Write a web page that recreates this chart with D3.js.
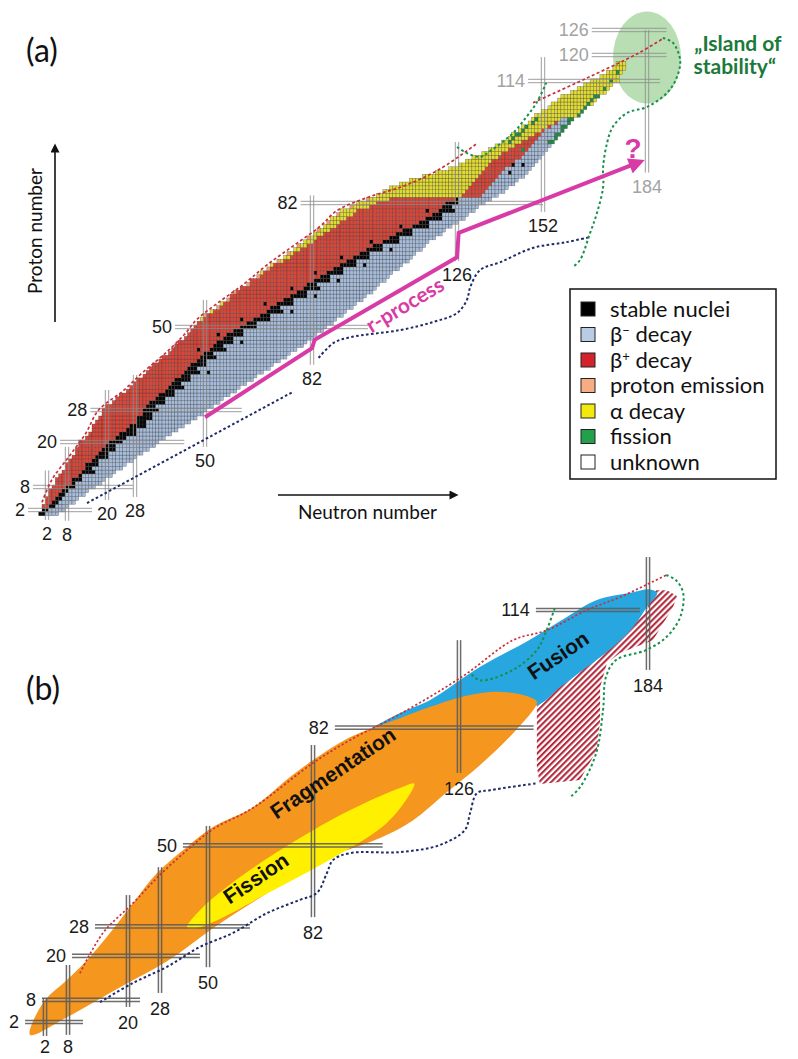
<!DOCTYPE html>
<html><head><meta charset="utf-8">
<script src="https://cdnjs.cloudflare.com/ajax/libs/d3/7.8.5/d3.min.js"></script>
<style>html,body{margin:0;padding:0;background:#fff}svg{display:block}</style>
</head><body>
<svg id="chart" width="798" height="1059"></svg>
<script>
// ================= DATA =================
// Panel (a): nuclide rows [Z, Nmin, alphaEnd, betaPlusEnd, stableEnd, Nmax]
// yellow: Nmin..alphaEnd, red: ..betaPlusEnd, black: ..stableEnd, blue: ..Nmax
const nuclideRows = [
[1,0,-1,-1,1,5],[2,1,0,0,2,7],[3,1,0,2,4,8],[4,2,1,3,5,10],[5,2,1,4,6,11],
[6,3,2,5,7,13],[7,3,2,6,8,14],[8,4,3,7,10,16],[9,5,4,9,10,18],[10,5,4,9,12,19],
[11,6,5,11,12,21],[12,7,6,12,16,22],[13,8,7,13,15,24],[14,8,7,13,17,25],[15,9,8,15,17,27],
[16,10,9,16,20,28],[17,11,10,17,20,30],[18,11,10,18,22,32],[19,12,11,19,22,34],[20,12,11,20,24,35],
[21,14,13,22,25,37],[22,15,14,23,28,39],[23,16,15,25,28,41],[24,16,15,26,31,43],[25,17,16,28,31,45],
[26,18,17,28,33,47],[27,19,18,30,33,49],[28,19,18,30,35,50],[29,20,19,31,34,52],[30,22,21,32,37,54],
[31,23,22,34,37,55],[32,24,23,35,40,57],[33,26,25,37,40,59],[34,27,26,38,43,60],[35,28,27,39,42,62],
[36,29,28,40,45,64],[37,31,30,42,45,65],[38,32,31,43,48,67],[39,33,32,44,47,69],[40,34,33,45,50,70],
[41,36,35,47,50,72],[42,37,36,48,53,74],[43,39,38,49,52,75],[44,40,39,51,56,77],[45,41,40,52,55,79],
[46,42,41,53,58,80],[47,44,43,55,58,82],[48,45,44,56,61,83],[49,46,45,58,61,85],[50,47,46,60,65,86],
[51,48,47,62,65,88],[52,49,49,64,69,89],[53,50,50,66,69,91],[54,52,52,68,73,92],[55,54,53,69,72,94],
[56,55,55,71,76,95],[57,57,56,73,76,97],[58,58,57,75,80,98],[59,59,58,77,80,100],[60,61,60,79,84,101],
[61,63,62,80,83,102],[62,64,63,82,87,104],[63,66,65,84,87,105],[64,67,67,86,91,106],[65,69,69,88,91,108],
[66,70,70,90,95,109],[67,72,73,92,95,111],[68,74,75,94,99,112],[69,75,76,96,99,113],[70,77,78,98,103,115],
[71,78,80,100,103,116],[72,80,82,103,108,117],[73,81,83,105,108,119],[74,83,85,107,112,121],[75,84,87,109,112,122],
[76,86,89,112,117,124],[77,87,90,114,117,126],[78,88,92,116,121,128],[79,90,94,118,121,129],[80,91,95,120,125,131],
[81,94,99,121,124,132],[82,96,101,122,126,134],[83,99,105,125,126,136],
[84,102,127,133,133,138],[85,104,128,134,134,140],[86,106,129,135,135,141],[87,109,130,136,136,143],
[88,112,131,137,137,144],[89,116,132,138,138,146],[90,120,133,139,139,147],[91,124,134,140,140,148],
[92,127,135,142,142,149],[93,129,136,143,143,150],[94,131,138,145,145,151],[95,134,139,146,146,152],
[96,136,141,147,147,153],[97,138,143,148,148,154],[98,140,145,149,149,155],[99,142,147,150,150,156],
[100,143,149,151,151,157],[101,145,151,152,152,158],[102,146,153,154,154,159],[103,148,155,156,156,160],
[104,149,157,157,157,161],
[105,150,163,163,163,163],[106,152,164,164,164,164],[107,154,165,165,165,165],[108,155,167,167,167,167],
[109,157,168,168,168,168],[110,158,169,169,169,169],[111,161,171,171,171,171],[112,163,172,172,172,172],
[113,165,173,173,173,173],[114,167,175,175,175,175],[115,170,175,175,175,175],[116,172,176,176,176,176],
[117,174,177,177,177,177],[118,175,177,177,177,177]
];
const stableExtra = [[90,142],[92,143],[92,146],[44,48],[48,54],[52,61],[56,68],[60,76],[64,83],[68,91],
  [72,100],[76,109],[80,117],[54,76],[62,90],[70,106],[38,51],[46,61],[58,83],[66,98]];
const protonEmitters = [[53,50],[55,54],[57,57],[59,59],[61,63],[63,66],[65,69],[67,72],[69,75],[71,78],
  [73,81],[75,84],[77,87],[79,90],[81,94],[83,99]];
const fissionCells = [[96,146],[98,142],[99,143],[100,144],[100,145],[101,146],[102,147],[103,149],[104,150],
  [98,154],[98,155],[99,156],[100,156],[100,157],[101,158],[102,158],[102,159],[103,160],[104,160],[104,161],
  [105,163],[106,164],[107,165],[108,166],[109,167],[110,168],[110,169],[112,171],[114,173],[116,175]];

// magic numbers panel (a): horizontal [Z, Nfrom, Nto], vertical [N, Zfrom, Zto]
const magicZ_A = [[2,-3.7,15.5],[8,-2.2,27.4],[20,5.9,43.5],[28,15,61],[50,40.6,99],[82,78.6,152],[114,147.5,188],[120,167,190],[126,167,190]];
const magicN_A = [[2,-0.6,12.4],[8,-0.8,18.7],[20,4.6,33.3],[28,5.4,37.3],[50,18.7,57],[82,40,84],[126,67,98],[152,79.7,119.5],[184,90,126]];
const predictedMagicZ = [114,120,126];
const predictedMagicN = [184];

// lines panel (a), [N, Z]
const protonDripA = [[0.5,4],[3.5,10],[8.5,16],[13.5,22],[17.5,28],[24.5,33],[30.5,38],[37.5,43],[43.5,48],[47.5,52],[53.5,56],[61.5,61],[68.5,66],[76.5,71],[84.5,76],[89.5,80],[99,83.5],[110,86.5],[121,91],[132,97.6]];
const protonDripA2 = [[149,108.3],[165,114.5],[181.5,120.5],[189,124]];
const neutronDripA1 = [[14,3.8],[76.3,32.8]];
const neutronDripA2 = [[84,41.8],[88.6,45.8],[93.7,47.3],[108.8,49.2],[118.8,51.3],[126,53.6],[129,57],[130,60.3],[133,64.7],[139.3,66.8],[148.9,70.4],[159.2,71.9],[166.4,73.2]];
const fissionHookA = [[126,96.7],[129,95.1],[133,94.1],[136,95.6],[143,100.4],[147,104.6],[150,108.2],[153,113.5]];
const fissionLimitA = [[188.9,124.1],[192,122.9],[194.2,118.8],[193.2,114.9],[190.2,110.9],[184,107.2],[177.8,105.6],[173.5,102],[171.7,97.7],[170.5,91.4],[170.5,86.2],[168.6,79.4],[166.5,74.3],[163.4,67.3],[161.2,65.5]];
const rProcessPath = [[50,26.2],[82,44.4],[82.8,46.6],[126,68],[126.5,74.3],[181,92.5]];
const islandCentre = [184,119.4];

// legend
const legendItems = [
  {key:'stable', label:'stable nuclei'},
  {key:'bminus', label:'β', sup:'−', rest:' decay'},
  {key:'bplus', label:'β', sup:'+', rest:' decay'},
  {key:'proton', label:'proton emission'},
  {key:'alpha', label:'α decay'},
  {key:'fission', label:'fission'},
  {key:'unknown', label:'unknown'}
];

// Panel (b)
const magicZ_B = [[2,-3.2,11],[8,1.2,23],[20,8.8,46.3],[28,13.4,62.8],[50,38.5,103],[82,88.6,148.9],[114,149.6,181.5]];
const magicN_B = [[2,-1.8,8.5],[8,-1.5,17.5],[20,6.1,36.5],[28,9.9,44.1],[50,16.9,55.3],[82,30.5,77.3],[126,69.7,105.8],[184,97.7,128.4]];
const fragmentationB = [[-1.9,-1.5],[1.5,7.2],[7.7,13.4],[11.8,18.8],[16.4,26.2],[21.25,34.3],[27.25,42.5],[40.4,49.6],[51.5,55],[63.7,60.4],[75,68.6],[82,73.2],[93.1,79.4],[108.2,84.6],[117.2,87.6],[126.3,90.3],[135.5,91.7],[143.2,91.4],[147.8,90.3],[149.9,89],[142.6,80.5],[132.4,71.8],[122.4,64.5],[112.1,56.8],[102.2,52],[88,47.2],[78,42.3],[68,37],[51.5,27.5],[31.2,18.5],[17.8,11],[7.7,3.3]];
const fissionB = [[40.4,27.8],[46.3,32.4],[57.6,40],[72.9,49.2],[88,57.2],[98.3,61.8],[108.2,65.6],[112.5,66.8],[110,62.3],[103.1,55.2],[88,46.6],[68,36.9],[53.7,30.1],[44,27.5]];
const fusionB = [[99.2,81.3],[108.2,86],[117.2,89.5],[132.4,98.5],[147.5,105.8],[159.1,112.1],[168.3,116.7],[179.4,118.8],[184.6,119.6],[186.8,118.6],[183.7,114.8],[179.4,109.3],[173.2,103.9],[165.3,98.5],[157,93],[149.9,88.1],[143.2,89.5],[135.5,90],[126.3,88.1],[117.2,85.4],[108.2,82.7]];
const unreachedB = [[185.2,119.4],[189.8,119.4],[192.9,117.8],[191.7,114.8],[185.5,105.8],[175.4,102.3],[171.4,99.6],[169.3,93],[169.3,84.1],[168.3,75.9],[163.1,67.8],[150.8,66.7],[149.9,71.3],[149.9,89.5],[157,94.1],[166.2,99.8],[175.4,106.6],[183.7,114]];
const protonDripB = [[10.4,15.3],[15,26.2],[21.25,34.3],[28,42],[40.4,48.7],[51.5,54.4],[63.7,60.2],[82,72.4],[93.1,78.6],[108.2,85.7],[127.2,96],[142.6,105.8],[153,108.5],[165.3,114],[175.4,117.5],[189.6,123.5]];
const fissionHookB = [[155.4,114.5],[152.3,107.2],[149.9,103.1],[142.6,97.7],[132.4,94.9],[129.3,97.1]];
const fissionLimitB = [[189.6,123.5],[192.6,122.1],[194.8,118.6],[193.9,112.1],[189.6,106.6],[183.4,103.1],[174.2,100.4],[171.1,95.8],[170.2,86.8],[168.1,75.1],[163.2,65.9],[160.1,63.1]];
const neutronDripB = [[14.4,7.4],[21.25,12.6],[31.2,17],[46.3,22.4],[57.6,26.2],[68,31.6],[78,35.2],[83.2,37.1],[86.2,42.5],[88,46],[93.1,47.9],[108.2,48.2],[120.2,50.1],[127.8,54.2],[129.4,58.8],[131.5,64.2],[135.5,65],[149.9,66.9]];
const regionLabelsB = [
  {text:'Fragmentation', at:[88,69.7]},
  {text:'Fission', at:[64.6,41.1]},
  {text:'Fusion', at:[156.4,101.7]}
];

// ================= SCALES =================
const xA = d3.scaleLinear().domain([2,8,20,28,50,82,126,152,184]).range([47,67,107,135,205,312,457,543,647]);
const yA = d3.scaleLinear().domain([2,8,20,28,50,82,114,120,126]).range([510,487,442,410,327,203,81,55,30]);
const xB = d3.scaleLinear().domain([2,8,20,28,50,82,126,184]).range([45,68,128,160,208,313,459,648]);
const yB = d3.scaleLinear().domain([2,114]).range([1022,610]);

const cellFill = {stable:'#050505', bminus:'#a6bcda', bplus:'#dc4437', proton:'#f2a068', alpha:'#e2dc2e', fission:'#1f8d45', unknown:'#ffffff'};
const legendFill = {stable:'#000000', bminus:'#b8cce6', bplus:'#d3222b', proton:'#f6ad83', alpha:'#f2ea0c', fission:'#22a04c', unknown:'#ffffff'};

const svg = d3.select('#chart');
svg.append('rect').attr('width',798).attr('height',1059).attr('fill','#fff');
const defs = svg.append('defs');
const pat = defs.append('pattern').attr('id','hatch').attr('patternUnits','userSpaceOnUse')
  .attr('width',4.3).attr('height',4.3).attr('patternTransform','rotate(45)');
pat.append('rect').attr('width',4.3).attr('height',4.3).attr('fill','#fff');
pat.append('rect').attr('width',2.1).attr('height',4.3).attr('fill','#b3283b');
function marker(id, color, w, h){
  defs.append('marker').attr('id',id).attr('viewBox','0 0 10 10').attr('refX',5).attr('refY',5)
    .attr('markerUnits','userSpaceOnUse').attr('markerWidth',w).attr('markerHeight',h).attr('orient','auto')
    .append('path').attr('d','M0,0 L10,5 L0,10 z').attr('fill',color);
}
marker('arrK','#111',11,9);
marker('arrM','#d83aa6',18,16);

const SANS = "'Liberation Sans', Arial, sans-serif";
const CAL = "Lato, 'Open Sans', sans-serif";

// ================= PANEL (a) =================
const gA = svg.append('g');
gA.append('ellipse').attr('cx',xA(islandCentre[0])).attr('cy',yA(islandCentre[1])).attr('rx',34).attr('ry',46)
  .attr('fill','#a7d6a0').attr('opacity',0.8);

const typeOf = new Map();
nuclideRows.forEach(([z,n0,ye,re,ke,n1])=>{
  for(let n=n0;n<=n1;n++){
    typeOf.set(z+'_'+n, n<=ye?'alpha': n<=re?'bplus': n<=ke?'stable':'bminus');
  }
});
protonEmitters.forEach(([z,n])=>typeOf.set(z+'_'+n,'proton'));
fissionCells.forEach(([z,n])=>typeOf.set(z+'_'+n,'fission'));
stableExtra.forEach(([z,n])=>typeOf.set(z+'_'+n,'stable'));
const cells = Array.from(typeOf, ([k,t])=>{const [z,n]=k.split('_').map(Number); return {z,n,t};});
gA.append('g').selectAll('rect').data(cells).join('rect')
  .attr('x',d=>xA(d.n-0.5)).attr('y',d=>yA(d.z+0.5))
  .attr('width',d=>xA(d.n+0.5)-xA(d.n-0.5)).attr('height',d=>yA(d.z-0.5)-yA(d.z+0.5))
  .attr('fill',d=>cellFill[d.t]).attr('stroke','#333').attr('stroke-width',0.45).attr('stroke-opacity',0.62);

function dbl(g,x1,y1,x2,y2,color,w,gap,op){
  const horiz = Math.abs(y2-y1) < Math.abs(x2-x1);
  [-gap/2,gap/2].forEach(o=>{
    g.append('line').attr('x1',horiz?x1:x1+o).attr('x2',horiz?x2:x2+o)
      .attr('y1',horiz?y1+o:y1).attr('y2',horiz?y2+o:y2)
      .attr('stroke',color).attr('stroke-width',w).attr('opacity',op);
  });
}
const gMA = gA.append('g');
magicZ_A.forEach(([z,n0,n1])=>{
  dbl(gMA,xA(n0),yA(z),xA(n1),yA(z),'#8e8e8e',1,3.4,0.85);
  gMA.append('text').attr('x',xA(n0)-3).attr('y',yA(z)).attr('dy','0.36em').attr('text-anchor','end')
    .attr('font-family',SANS).attr('font-size',18).attr('fill',predictedMagicZ.includes(z)?'#a3a3a3':'#1a1a1a').text(z);
});
magicN_A.forEach(([n,z0,z1])=>{
  dbl(gMA,xA(n),yA(z0),xA(n),yA(z1),'#8e8e8e',1,3.4,0.85);
  gMA.append('text').attr('x',xA(n)).attr('y',yA(z0)+20).attr('text-anchor','middle')
    .attr('font-family',SANS).attr('font-size',18).attr('fill',predictedMagicN.includes(n)?'#a3a3a3':'#1a1a1a').text(n);
});

const lineA = d3.line().x(d=>xA(d[0])).y(d=>yA(d[1])).curve(d3.curveCatmullRom);
function dashed(g,data,line,color,dash,w){
  g.append('path').attr('d',line(data)).attr('fill','none').attr('stroke',color)
    .attr('stroke-width',w).attr('stroke-dasharray',dash);
}
dashed(gA,protonDripA,lineA,'#c8303c','3,2.4',1.7);
dashed(gA,protonDripA2,lineA,'#c8303c','3,2.4',1.7);
dashed(gA,neutronDripA1,lineA,'#1f2a68','2.6,2.4',2);
dashed(gA,neutronDripA2,lineA,'#1f2a68','2.6,2.4',2);
dashed(gA,fissionHookA,lineA,'#17904c','2.6,2.6',2);
dashed(gA,fissionLimitA,lineA,'#17904c','2.6,2.6',2);

gA.append('path').attr('d',d3.line().x(d=>xA(d[0])).y(d=>yA(d[1]))(rProcessPath))
  .attr('fill','none').attr('stroke','#d83aa6').attr('stroke-width',4).attr('stroke-linejoin','miter')
  .attr('marker-end','url(#arrM)');
gA.append('text').attr('transform',`translate(${xA(110.2)},${yA(55.7)}) rotate(-31)`).attr('text-anchor','middle')
  .attr('dy','0.35em').attr('font-family',CAL).attr('font-weight','bold').attr('font-size',21).attr('fill','#d83aa6').text('r-process');
gA.append('text').attr('x',xA(179.7)).attr('y',yA(96.4)).attr('dy','0.36em').attr('text-anchor','middle')
  .attr('font-family',SANS).attr('font-weight','bold').attr('font-size',28).attr('fill','#d83aa6').text('?');

gA.append('text').attr('x',xA(212)).attr('y',yA(121)).attr('font-family',CAL).attr('font-weight','bold').attr('font-size',21)
  .attr('fill','#1b7a3a').attr('text-anchor','middle').text('\u201EIsland of');
gA.append('text').attr('x',xA(211)).attr('y',yA(121)+23.5).attr('font-family',CAL).attr('font-weight','bold').attr('font-size',21)
  .attr('fill','#1b7a3a').attr('text-anchor','middle').text('stability\u201C');

gA.append('line').attr('x1',55).attr('y1',322).attr('x2',55).attr('y2',148).attr('stroke','#111').attr('stroke-width',1.6).attr('marker-end','url(#arrK)');
gA.append('line').attr('x1',278).attr('y1',495).attr('x2',454).attr('y2',495).attr('stroke','#111').attr('stroke-width',1.6).attr('marker-end','url(#arrK)');
gA.append('text').attr('transform','translate(42,231) rotate(-90)').attr('text-anchor','middle')
  .attr('font-family',CAL).attr('font-size',19).attr('fill','#111').text('Proton number');
gA.append('text').attr('x',298).attr('y',519).attr('font-family',CAL).attr('font-size',19).attr('fill','#111').text('Neutron number');
gA.append('text').attr('x',26).attr('y',62).attr('font-family',CAL).attr('font-size',32).attr('fill','#111').text('(a)');

const lg = gA.append('g');
lg.append('rect').attr('x',570).attr('y',289).attr('width',206).attr('height',190).attr('fill','#fff').attr('stroke','#111').attr('stroke-width',1.5);
legendItems.forEach((it,i)=>{
  const cy = 309 + i*25.5;
  lg.append('rect').attr('x',581).attr('y',cy-7).attr('width',14).attr('height',14)
    .attr('fill',legendFill[it.key]).attr('stroke','#222').attr('stroke-width',1);
  const t = lg.append('text').attr('x',610).attr('y',cy+7.5).attr('font-family',CAL).attr('font-size',22).attr('fill','#111');
  t.append('tspan').text(it.label);
  if(it.sup){
    t.append('tspan').attr('dy',-7).attr('font-size',13).text(it.sup);
    t.append('tspan').attr('dy',7).text(it.rest);
  }
});

// ================= PANEL (b) =================
const gB = svg.append('g');
const areaB = d3.line().x(d=>xB(d[0])).y(d=>yB(d[1])).curve(d3.curveCatmullRomClosed.alpha(0.5));
const areaBL = d3.line().x(d=>xB(d[0])).y(d=>yB(d[1])).curve(d3.curveLinearClosed);
gB.append('path').attr('d',areaBL(unreachedB)).attr('fill','url(#hatch)');
gB.append('path').attr('d',areaB(fusionB)).attr('fill','#27a6df');
gB.append('path').attr('d',areaB(fragmentationB)).attr('fill','#f5961e');
gB.append('path').attr('d',areaB(fissionB)).attr('fill','#fff000');

const gMB = gB.append('g');
magicZ_B.forEach(([z,n0,n1])=>{
  dbl(gMB,xB(n0),yB(z),xB(n1),yB(z),'#5e5e5e',1.5,3.2,0.9);
  gMB.append('text').attr('x',xB(n0)-6).attr('y',yB(z)).attr('dy','0.36em').attr('text-anchor','end')
    .attr('font-family',SANS).attr('font-size',18).attr('fill','#1a1a1a').text(z);
});
magicN_B.forEach(([n,z0,z1])=>{
  dbl(gMB,xB(n),yB(z0),xB(n),yB(z1),'#5e5e5e',1.5,3.2,0.9);
  gMB.append('text').attr('x',xB(n)).attr('y',Math.min(yB(z0)+22,1053)).attr('text-anchor','middle')
    .attr('font-family',SANS).attr('font-size',18).attr('fill','#1a1a1a').text(n);
});

const lineB = d3.line().x(d=>xB(d[0])).y(d=>yB(d[1])).curve(d3.curveCatmullRom);
dashed(gB,protonDripB,lineB,'#c8303c','2.2,2.2',1.7);
dashed(gB,fissionHookB,lineB,'#17904c','2.6,2.6',2);
dashed(gB,fissionLimitB,lineB,'#17904c','2.6,2.6',2);
dashed(gB,neutronDripB,lineB,'#1f2a68','2.6,2.4',2);

regionLabelsB.forEach(r=>{
  gB.append('text').attr('transform',`translate(${xB(r.at[0])},${yB(r.at[1])}) rotate(-34)`)
    .attr('text-anchor','middle').attr('dy','0.35em').attr('font-family',SANS).attr('font-weight','bold')
    .attr('font-size',21).attr('fill','#111').text(r.text);
});
gB.append('text').attr('x',26).attr('y',700).attr('font-family',CAL).attr('font-size',32).attr('fill','#111').text('(b)');
</script></body></html>
